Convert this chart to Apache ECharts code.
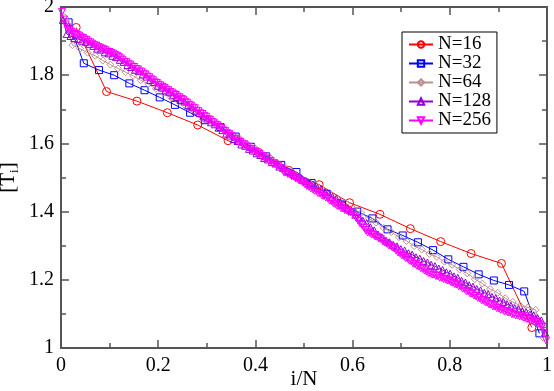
<!DOCTYPE html>
<html>
<head>
<meta charset="utf-8">
<script src="https://cdn.jsdelivr.net/npm/echarts@6/dist/echarts.min.js"></script>
<style>
  html, body { margin: 0; padding: 0; background: #fff; }
  #chart { width: 554px; height: 391px; }
</style>
</head>
<body>
<div id="chart"></div>
<script>
// temperature profile values; point i sits at (i+0.5)/N
const T16 = [1.940, 1.752, 1.724, 1.690, 1.654, 1.608, 1.574, 1.521, 1.479, 1.426, 1.392, 1.350, 1.312, 1.277, 1.248, 1.060];

const T32 = [
  1.955, 1.835, 1.815, 1.800, 1.776, 1.756, 1.735, 1.713,
  1.690, 1.668, 1.648, 1.620, 1.590, 1.562, 1.537, 1.516,
  1.484, 1.452, 1.421, 1.400, 1.380, 1.348, 1.330, 1.310,
  1.287, 1.260, 1.238, 1.216, 1.198, 1.185, 1.166, 1.043
];

const T64 = [
  1.970, 1.888, 1.878, 1.866, 1.857, 1.843, 1.831, 1.820,
  1.809, 1.798, 1.785, 1.774, 1.760, 1.749, 1.734, 1.723,
  1.708, 1.696, 1.680, 1.668, 1.653, 1.641, 1.626, 1.614,
  1.599, 1.587, 1.571, 1.559, 1.543, 1.531, 1.515, 1.502,
  1.488, 1.477, 1.462, 1.450, 1.435, 1.424, 1.408, 1.396,
  1.380, 1.368, 1.352, 1.340, 1.325, 1.314, 1.299, 1.289,
  1.276, 1.267, 1.253, 1.244, 1.230, 1.219, 1.202, 1.189,
  1.173, 1.162, 1.146, 1.135, 1.124, 1.119, 1.112, 1.030
];

const T128 = [
  1.962, 1.921, 1.915, 1.909, 1.906, 1.901, 1.898, 1.892, 1.886, 1.878, 1.875, 1.867, 1.864, 1.857, 1.853, 1.845,
  1.839, 1.830, 1.824, 1.816, 1.812, 1.802, 1.796, 1.786, 1.780, 1.769, 1.764, 1.755, 1.750, 1.741, 1.736, 1.727,
  1.723, 1.713, 1.706, 1.696, 1.689, 1.679, 1.673, 1.662, 1.656, 1.646, 1.639, 1.629, 1.623, 1.613, 1.607, 1.597,
  1.593, 1.584, 1.579, 1.571, 1.566, 1.557, 1.553, 1.545, 1.541, 1.532, 1.528, 1.519, 1.515, 1.507, 1.502, 1.494,
  1.490, 1.482, 1.478, 1.470, 1.466, 1.457, 1.452, 1.443, 1.438, 1.428, 1.421, 1.410, 1.402, 1.391, 1.384, 1.373,
  1.366, 1.354, 1.345, 1.333, 1.325, 1.315, 1.310, 1.302, 1.298, 1.290, 1.286, 1.278, 1.274, 1.266, 1.262, 1.255,
  1.251, 1.244, 1.240, 1.233, 1.229, 1.222, 1.218, 1.210, 1.206, 1.197, 1.192, 1.184, 1.180, 1.173, 1.169, 1.162,
  1.158, 1.150, 1.146, 1.139, 1.135, 1.128, 1.124, 1.117, 1.114, 1.107, 1.105, 1.098, 1.095, 1.088, 1.081, 1.045
];

const T256 = [
  1.985, 1.963, 1.949, 1.940, 1.933, 1.928, 1.925, 1.921, 1.918, 1.916, 1.911, 1.909, 1.905, 1.903, 1.898, 1.896,
  1.892, 1.888, 1.887, 1.883, 1.881, 1.878, 1.876, 1.873, 1.869, 1.868, 1.865, 1.863, 1.859, 1.857, 1.853, 1.849,
  1.844, 1.839, 1.838, 1.832, 1.831, 1.825, 1.824, 1.818, 1.817, 1.811, 1.810, 1.804, 1.802, 1.796, 1.794, 1.788,
  1.785, 1.779, 1.777, 1.772, 1.770, 1.765, 1.763, 1.758, 1.756, 1.751, 1.749, 1.744, 1.742, 1.737, 1.735, 1.730,
  1.728, 1.722, 1.719, 1.713, 1.711, 1.705, 1.703, 1.696, 1.694, 1.688, 1.686, 1.680, 1.678, 1.671, 1.669, 1.663,
  1.661, 1.655, 1.653, 1.647, 1.645, 1.638, 1.636, 1.630, 1.628, 1.622, 1.620, 1.614, 1.612, 1.606, 1.604, 1.599,
  1.597, 1.591, 1.590, 1.584, 1.583, 1.577, 1.576, 1.570, 1.569, 1.563, 1.562, 1.556, 1.555, 1.549, 1.548, 1.542,
  1.541, 1.536, 1.535, 1.528, 1.523, 1.515, 1.514, 1.510, 1.509, 1.504, 1.503, 1.498, 1.496, 1.491, 1.490, 1.485,
  1.480, 1.475, 1.473, 1.468, 1.466, 1.461, 1.460, 1.454, 1.453, 1.447, 1.446, 1.441, 1.439, 1.432, 1.430, 1.424,
  1.422, 1.417, 1.416, 1.410, 1.409, 1.404, 1.403, 1.399, 1.398, 1.396, 1.389, 1.381, 1.374, 1.365, 1.361, 1.353,
  1.345, 1.339, 1.338, 1.333, 1.332, 1.327, 1.326, 1.321, 1.319, 1.314, 1.309, 1.307, 1.302, 1.300, 1.295, 1.292,
  1.286, 1.280, 1.278, 1.272, 1.270, 1.264, 1.262, 1.256, 1.254, 1.248, 1.246, 1.241, 1.239, 1.234, 1.232, 1.227,
  1.224, 1.220, 1.219, 1.215, 1.215, 1.211, 1.211, 1.206, 1.206, 1.202, 1.201, 1.198, 1.197, 1.193, 1.191, 1.187,
  1.186, 1.181, 1.180, 1.174, 1.173, 1.167, 1.166, 1.160, 1.159, 1.154, 1.152, 1.147, 1.146, 1.140, 1.139, 1.134,
  1.133, 1.128, 1.127, 1.122, 1.122, 1.117, 1.116, 1.112, 1.112, 1.108, 1.108, 1.104, 1.104, 1.099, 1.099, 1.095,
  1.096, 1.093, 1.093, 1.089, 1.088, 1.085, 1.085, 1.081, 1.080, 1.076, 1.075, 1.071, 1.068, 1.063, 1.050, 1.022
];

const xTicks = { min: 0, max: 1, interval: 0.2 };
const yTicks = { min: 1, max: 2, interval: 0.2 };

const FONT = 'Liberation Serif';
const AXIS_COLOR = '#555';

// pair each value with its site position i/N
function toPoints(vals) {
  const n = vals.length;
  return vals.map((v, i) => [(i + 0.5) / n, v]);
}

function makeSeries(name, vals, color, symbol, size, rotate) {
  return {
    name: name,
    type: 'line',
    data: toPoints(vals),
    symbol: symbol,
    symbolSize: size,
    symbolRotate: rotate || 0,
    showSymbol: true,
    lineStyle: { color: color, width: 1 },
    itemStyle: { color: 'rgba(255,255,255,0)', borderColor: color, borderWidth: 1 },
    emphasis: { disabled: true },
    animation: false
  };
}

function axisCommon(pos, showLabel, margin) {
  return {
    type: 'value',
    position: pos,
    nameMoveOverlap: false,
    axisLine: { show: true, onZero: false, lineStyle: { color: AXIS_COLOR, width: 2 } },
    axisTick: { show: true, inside: true, length: 8, lineStyle: { color: AXIS_COLOR, width: 1.5 } },
    minorTick: { show: true, splitNumber: 2, length: 5, lineStyle: { color: AXIS_COLOR, width: 1.5 } },
    splitLine: { show: false },
    minorSplitLine: { show: false },
    axisLabel: { show: showLabel, fontFamily: FONT, fontSize: 20, color: '#000', margin: margin || 5 }
  };
}

const chart = echarts.init(document.getElementById('chart'));

const option = {
  animation: false,
  grid: { left: 61, right: 7, top: 7, bottom: 43, outerBoundsMode: 'none' },
  legend: {
    orient: 'vertical',
    left: 402,
    top: 32,
    padding: [3, 6, 3, 6],
    itemGap: 0,
    itemWidth: 24,
    itemHeight: 8,
    borderColor: '#000',
    borderWidth: 1,
    borderRadius: 0,
    backgroundColor: '#fff',
    textStyle: { fontFamily: FONT, fontSize: 19, color: '#000', lineHeight: 19 }
  },
  xAxis: [
    Object.assign(axisCommon('bottom', true, 8), xTicks, {
      name: 'i/N',
      nameLocation: 'middle',
      nameGap: 21,
      nameTextStyle: { fontFamily: FONT, fontSize: 21, color: '#000' }
    }),
    Object.assign(axisCommon('top', false), xTicks)
  ],
  yAxis: [
    Object.assign(axisCommon('left', true, 7), yTicks, {
      name: '{a|[T}{b|i}{a|]}',
      nameLocation: 'middle',
      nameGap: 40,
      nameRotate: 90,
      nameTextStyle: {
        rich: {
          a: { fontFamily: FONT, fontSize: 21, color: '#000' },
          b: { fontFamily: FONT, fontSize: 13, color: '#000', padding: [12, 0, 0, 0] }
        }
      }
    }),
    Object.assign(axisCommon('right', false), yTicks)
  ],
  series: [
    makeSeries('N=16', T16, '#ff0000', 'circle', 8),
    makeSeries('N=32', T32, '#0000ff', 'rect', 7),
    makeSeries('N=64', T64, '#bc8f8f', 'diamond', 7),
    makeSeries('N=128', T128, '#9400d3', 'triangle', 7),
    makeSeries('N=256', T256, '#ff00ff', 'triangle', 7, 180)
  ]
};

chart.setOption(option);
</script>
</body>
</html>
